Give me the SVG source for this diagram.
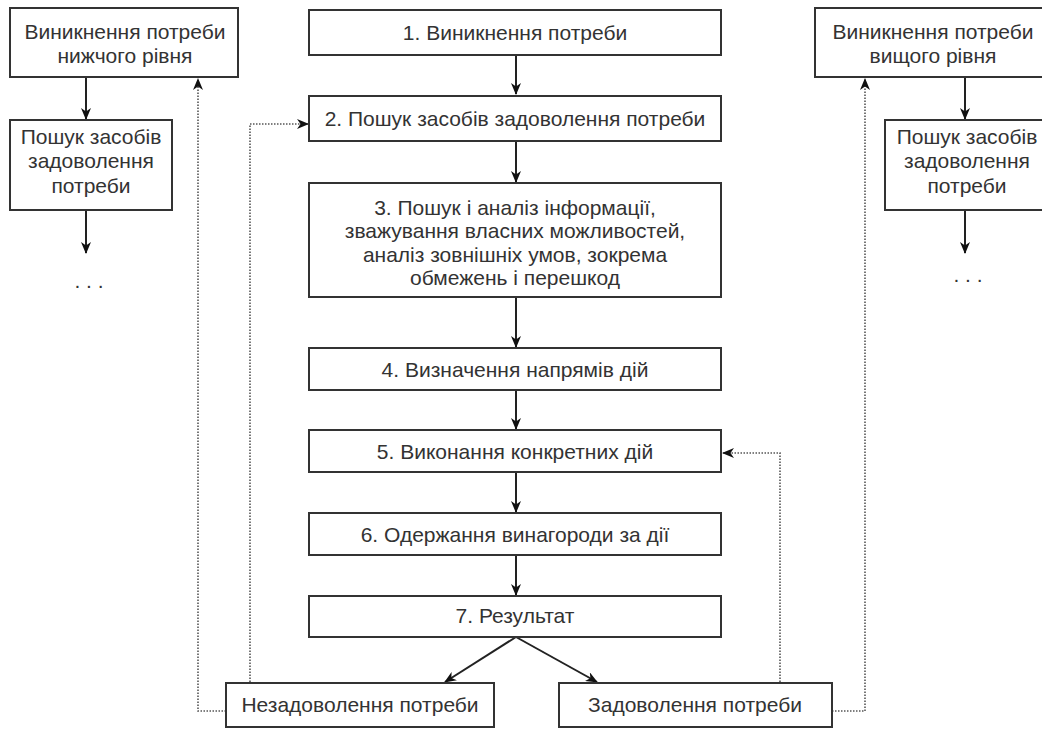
<svg xmlns="http://www.w3.org/2000/svg" width="1042" height="729" viewBox="0 0 1042 729">
<defs>
<style>
.box{fill:#fff;stroke:#333;stroke-width:2}
.t{font-family:"Liberation Sans",Arial,sans-serif;font-size:21px;fill:#333;text-anchor:middle;dominant-baseline:central}
.a{fill:none;stroke:#222;stroke-width:2;marker-end:url(#ah)}
.d{fill:none;stroke:#555;stroke-width:1.6;stroke-dasharray:1.5 1.5;marker-end:url(#ah)}
</style>
<marker id="ah" viewBox="0 0 12 10" refX="11" refY="5" markerWidth="12" markerHeight="10" markerUnits="userSpaceOnUse" orient="auto">
<path d="M0,0 L12,5 L0,10 L3.5,5 z" fill="#111"/>
</marker>
</defs>
<rect width="1042" height="729" fill="#fff"/>

<g id="connectors">
<path class="a" d="M516,55 V94"/>
<path class="a" d="M516,141 V182"/>
<path class="a" d="M516,297 V347"/>
<path class="a" d="M516,390 V429"/>
<path class="a" d="M516,472 V512"/>
<path class="a" d="M516,555 V595"/>
<path class="a" d="M516,637 L445,682"/>
<path class="a" d="M516,637 L597,682"/>
<path class="a" d="M86,77 V119"/>
<path class="a" d="M86,210 V253"/>
<path class="a" d="M965,77 V119"/>
<path class="a" d="M965,210 V253"/>
<path class="d" d="M226,711 H198 V79"/>
<path class="d" d="M250,682 V124 H308"/>
<path class="d" d="M780,682 V453 H723"/>
<path class="d" d="M832,711 H865 V79"/>
</g>

<g id="n1"><rect class="box" x="309" y="10" width="412" height="45"/><text class="t" x="515" y="32">1. Виникнення потреби</text></g>
<g id="n2"><rect class="box" x="309" y="96" width="412" height="45"/><text class="t" x="515" y="118">2. Пошук засобів задоволення потреби</text></g>
<g id="n3"><rect class="box" x="309" y="183" width="412" height="114"/>
<text class="t" x="515" y="207">3. Пошук і аналіз інформації,</text>
<text class="t" x="515" y="230.5">зважування власних можливостей,</text>
<text class="t" x="515" y="254">аналіз зовнішніх умов, зокрема</text>
<text class="t" x="515" y="277.5">обмежень і перешкод</text></g>
<g id="n4"><rect class="box" x="309" y="348" width="412" height="42"/><text class="t" x="515" y="369">4. Визначення напрямів дій</text></g>
<g id="n5"><rect class="box" x="309" y="430" width="412" height="42"/><text class="t" x="515" y="451">5. Виконання конкретних дій</text></g>
<g id="n6"><rect class="box" x="309" y="513" width="412" height="42"/><text class="t" x="515" y="534">6. Одержання винагороди за дії</text></g>
<g id="n7"><rect class="box" x="309" y="596" width="412" height="41"/><text class="t" x="515" y="615">7. Результат</text></g>
<g id="n8"><rect class="box" x="226" y="683" width="268" height="44"/><text class="t" x="360" y="704">Незадоволення потреби</text></g>
<g id="n9"><rect class="box" x="559" y="683" width="273" height="44"/><text class="t" x="695" y="704">Задоволення потреби</text></g>

<g id="l1"><rect class="box" x="10" y="8" width="228" height="69"/>
<text class="t" x="125" y="31">Виникнення потреби</text>
<text class="t" x="125" y="55">нижчого рівня</text></g>
<g id="l2"><rect class="box" x="10" y="120" width="162" height="90"/>
<text class="t" x="91" y="136">Пошук засобів</text>
<text class="t" x="91" y="160">задоволення</text>
<text class="t" x="91" y="185">потреби</text></g>
<g id="l3"><text class="t" x="89" y="280">. . .</text></g>

<g id="r1"><rect class="box" x="815" y="8" width="240" height="69"/>
<text class="t" x="933" y="31">Виникнення потреби</text>
<text class="t" x="933" y="55">вищого рівня</text></g>
<g id="r2"><rect class="box" x="885" y="120" width="170" height="90"/>
<text class="t" x="967" y="136">Пошук засобів</text>
<text class="t" x="967" y="160">задоволення</text>
<text class="t" x="967" y="185">потреби</text></g>
<g id="r3"><text class="t" x="968" y="274">. . .</text></g>
</svg>
